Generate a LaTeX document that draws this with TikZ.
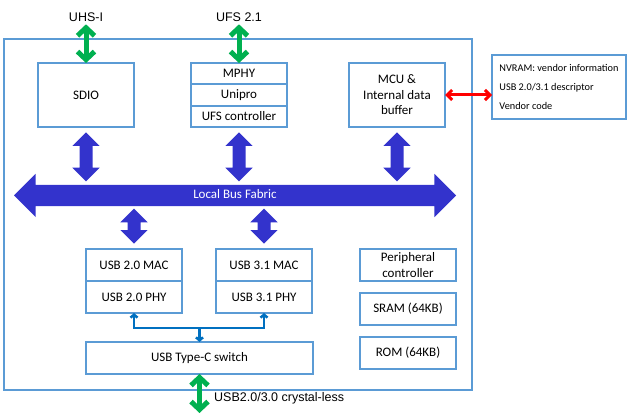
\documentclass[tikz,border=0pt]{standalone}
\usepackage{fontspec}
\setmainfont{Carlito}
\newfontfamily\arialfont{Liberation Sans}
\usetikzlibrary{shapes.arrows,arrows.meta,positioning}
\definecolor{boxblue}{RGB}{91,155,213}
\definecolor{busblue}{RGB}{51,51,204}
\definecolor{linkblue}{RGB}{0,112,192}
\definecolor{portgreen}{RGB}{0,176,80}
\definecolor{nvred}{RGB}{255,0,0}

\begin{document}
\begin{tikzpicture}[x=1pt,y=-1pt]
    \tikzstyle{blk} = [draw=boxblue, line width=1.3pt, minimum width=96pt, minimum height=64pt, inner sep=0pt, outer sep=0pt, align=center, font=\fontsize{13}{15.6}\selectfont]
    \tikzstyle{cell} = [blk, minimum height=32pt]
    \tikzstyle{ext} = [font=\arialfont\fontsize{12.5}{15}\selectfont, inner sep=2pt]
    \tikzstyle{vlink} = [double arrow, shape border rotate=90, fill=busblue, inner sep=6.3pt, double arrow head extend=7.2pt]
    \tikzstyle{port} = [draw=portgreen, line width=5pt, {Straight Barb[length=8pt,width=17pt]}-{Straight Barb[length=8pt,width=17pt]}]
    \tikzstyle{usblink} = [draw=linkblue, line width=2.5pt, >={Straight Barb[length=3pt,width=7pt]}]
    \tikzstyle{nvlink} = [draw=nvred, line width=3pt, {Straight Barb[length=5pt,width=10pt]}-{Straight Barb[length=5pt,width=10pt]}]
    \useasboundingbox (0,0) rectangle (636,419);
    \node[draw=boxblue, line width=1.3pt, minimum width=468pt, minimum height=351pt] (chip) at (238,214.5) {};
    \node[blk] (sdio) at (86,95) {SDIO};
    \node[blk, minimum height=21pt] (mphy) at (239,73.5) {MPHY};
    \node[blk, minimum height=22pt, below=0pt of mphy] (unipro) {Unipro};
    \node[blk, minimum height=21pt, below=0pt of unipro] (ufsctl) {UFS controller};
    \node[blk] (mcu) at (397,95) {MCU \&\\Internal data\\buffer};
    \node[blk, minimum width=134pt, align=left, font=\fontsize{10.3}{19}\selectfont] (nvram) at (559,87) {NVRAM: vendor information\\USB 2.0/3.1 descriptor\\Vendor code};
    \node[double arrow, fill=busblue, minimum height=442pt, inner sep=0pt, text height=14pt, text depth=7pt, double arrow head extend=11pt, text=white, font=\fontsize{13}{15.6}\selectfont] (bus) at (235,195.5) {Local Bus Fabric};
    \node[vlink, minimum height=49pt, below=5pt of sdio] (sdiolink) {};
    \node[vlink, minimum height=49pt, below=5pt of ufsctl] (ufslink) {};
    \node[vlink, minimum height=49pt, below=5pt of mcu] (mculink) {};
    \node[cell] (usb2mac) at (134,265) {USB 2.0 MAC};
    \node[cell, below=0pt of usb2mac] (usb2phy) {USB 2.0 PHY};
    \node[cell] (usb3mac) at (264,265) {USB 3.1 MAC};
    \node[cell, below=0pt of usb3mac] (usb3phy) {USB 3.1 PHY};
    \node[cell, minimum width=227pt] (switch) at (199.5,358) {USB Type-C switch};
    \node[vlink, minimum height=35pt, above=5pt of usb2mac] (usb2link) {};
    \node[vlink, minimum height=35pt, above=5pt of usb3mac] (usb3link) {};
    \node[cell] (periph) at (408,265) {Peripheral\\controller};
    \node[cell, below=12pt of periph] (sram) {SRAM (64KB)};
    \node[cell, below=12pt of sram] (rom) {ROM (64KB)};
    \node[ext, anchor=base] (uhs) at (86,22) {UHS-I};
    \node[ext, anchor=base] (ufs) at (239,22) {UFS 2.1};
    \node[ext, anchor=base west] (usbport) at (212,401) {USB2.0/3.0 crystal-less};
    \coordinate (usbend) at (199.5,413);
    \draw[port] (uhs) -- (sdio);
    \draw[port] (ufs) -- (mphy);
    \draw[port] (switch) -- (usbend);
    \draw[nvlink] (mcu.east) -- (mcu.east -| nvram.west);
    \draw[usblink, <->] (usb2phy.south) -- ++(0,15) coordinate (usbjoin) -| (usb3phy.south);
    \draw[usblink, ->] (usbjoin -| switch.north) -- (switch.north);
\end{tikzpicture}
\end{document}
